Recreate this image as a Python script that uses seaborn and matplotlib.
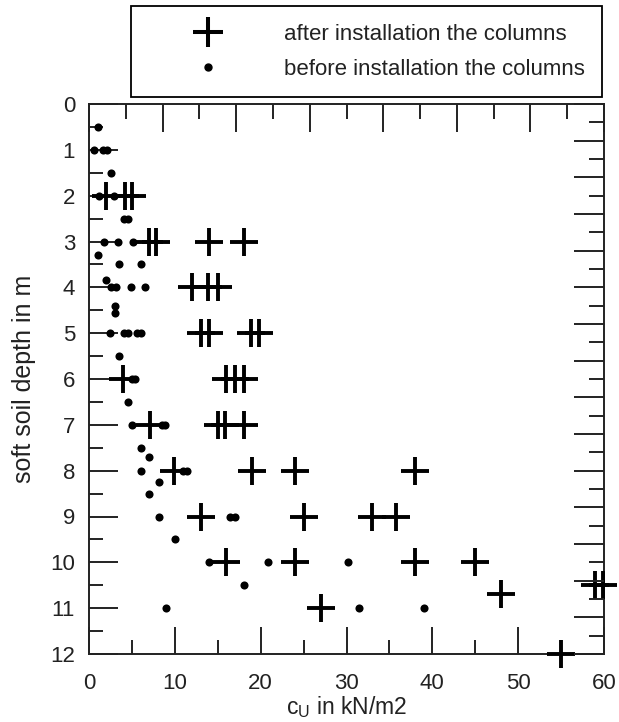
import matplotlib
matplotlib.use("Agg")
import matplotlib.pyplot as plt
import seaborn as sns
import numpy as np
import pandas as pd
from matplotlib.lines import Line2D
from matplotlib.ticker import MultipleLocator

# ---- data ----
after_cu = [2.0, 4.2, 5.0, 7.0, 7.8, 14.0, 18.0, 12.0, 13.9, 15.0,
            13.0, 14.0, 18.9, 19.8, 4.0, 16.0, 17.0, 18.0, 7.1, 15.0,
            15.8, 18.0, 9.9, 19.0, 24.0, 38.0, 13.0, 25.0, 33.0, 35.8,
            16.0, 24.0, 38.0, 45.0, 48.0, 59.0, 59.9, 27.0, 55.0]
after_depth = [2, 2, 2, 3, 3, 3, 3, 4, 4, 4,
               5, 5, 5, 5, 6, 6, 6, 6, 7, 7,
               7, 7, 8, 8, 8, 8, 9, 9, 9, 9,
               10, 10, 10, 10, 10.7, 10.5, 10.5, 11, 12]

before_cu = [1.0, 0.6, 1.6, 2.1, 2.6, 1.2, 2.9, 4.1, 4.6, 1.75,
             3.4, 5.1, 1.0, 3.5, 6.0, 2.0, 2.6, 3.2, 4.95, 6.5,
             3.0, 3.0, 2.4, 4.1, 4.5, 5.6, 6.0, 3.5, 5.0, 5.4,
             4.6, 5.05, 8.5, 8.9, 6.0, 7.0, 6.0, 11.0, 11.4, 8.1,
             7.0, 8.1, 16.4, 17.0, 10.0, 14.0, 20.9, 30.2, 18.1, 9.0,
             31.4, 39.0]
before_depth = [0.5, 1, 1, 1, 1.5, 2, 2, 2.5, 2.5, 3,
                3, 3, 3.3, 3.5, 3.5, 3.85, 4, 4, 4, 4,
                4.4, 4.55, 5, 5, 5, 5, 5, 5.5, 6, 6,
                6.5, 7, 7, 7, 7.5, 7.7, 8, 8, 8, 8.25,
                8.5, 9, 9, 9, 9.5, 10, 10, 10, 10.5, 11,
                11, 11]

legend_labels = ["after installation the columns", "before installation the columns"]
x_label = r"c$_\mathregular{U}$ in kN/m2"
y_label = "soft soil depth in m"

# ---- style ----
sns.set_style("ticks")
plt.rcParams["font.family"] = ["Liberation Sans", "DejaVu Sans"]
TXT = "#222222"
LC = "#222222"
LW = 1.4
RECT = [89 / 619, 1 - 654 / 722, 515 / 619, 550 / 722]

df_after = pd.DataFrame({"cu": after_cu, "depth": after_depth})
df_before = pd.DataFrame({"cu": before_cu, "depth": before_depth})


def build(legend_mode, overlay):
    fig = plt.figure(figsize=(6.19, 7.22), dpi=100)
    ax = fig.add_axes(RECT)

    sns.scatterplot(data=df_before, x="cu", y="depth", ax=ax, marker="o", s=34,
                    color="black", edgecolor="black", linewidth=0, clip_on=False, zorder=3)
    sns.scatterplot(data=df_after, x="cu", y="depth", ax=ax, marker="+", s=400,
                    color="black", linewidth=2.8, clip_on=False, zorder=4)

    ax.set_xlim(0, 60)
    ax.set_ylim(12, 0)
    ax.xaxis.set_major_locator(MultipleLocator(10))
    ax.xaxis.set_minor_locator(MultipleLocator(5))
    ax.yaxis.set_major_locator(MultipleLocator(1))
    ax.yaxis.set_minor_locator(MultipleLocator(0.5))

    ax.tick_params(axis="x", which="major", direction="in", length=19.5, width=LW,
                   colors=LC, labelsize=16, labelcolor=TXT, pad=14)
    ax.tick_params(axis="x", which="minor", direction="in", length=10, width=LW, colors=LC)
    ax.tick_params(axis="y", which="major", direction="in", length=21, width=LW,
                   colors=LC, labelsize=16, labelcolor=TXT, pad=10)
    ax.tick_params(axis="y", which="minor", direction="in", length=10, width=LW, colors=LC)
    for s in ax.spines.values():
        s.set_linewidth(LW)
        s.set_color(LC)

    ax.set_xlabel(x_label, fontsize=16.5, color=TXT, labelpad=0)
    ax.set_ylabel(y_label, fontsize=18, color=TXT, labelpad=10)

    if overlay:
        # extra tick scales on top (14 steps) and right (15 steps)
        axo = fig.add_axes(RECT)
        axo.patch.set_visible(False)
        axo.set_xlim(0, 14)
        axo.set_ylim(15, 0)
        axo.xaxis.set_major_locator(MultipleLocator(2))
        axo.xaxis.set_minor_locator(MultipleLocator(1))
        axo.yaxis.set_major_locator(MultipleLocator(1))
        axo.yaxis.set_minor_locator(MultipleLocator(0.5))
        axo.xaxis.tick_top()
        axo.yaxis.tick_right()
        axo.tick_params(axis="both", which="both", labeltop=False, labelright=False,
                        labelbottom=False, labelleft=False, direction="in",
                        width=LW, colors=LC)
        axo.tick_params(axis="x", which="major", length=20)
        axo.tick_params(axis="x", which="minor", length=10.5)
        axo.tick_params(axis="y", which="major", length=21.5)
        axo.tick_params(axis="y", which="minor", length=10.5)
        for s in axo.spines.values():
            s.set_visible(False)

    if legend_mode != "none":
        handles = [
            Line2D([], [], linestyle="none", marker="+", markersize=21,
                   markeredgewidth=2.9, color="black"),
            Line2D([], [], linestyle="none", marker="o", markersize=5, color="black"),
        ]
        common = dict(fontsize=16, frameon=True, fancybox=False, edgecolor="black",
                      framealpha=1, borderpad=0.8, handlelength=5.3,
                      handletextpad=0.78, labelspacing=0.62, borderaxespad=0)
        if legend_mode == "expand":
            leg = fig.legend(handles, legend_labels, loc="upper left",
                             bbox_to_anchor=(131 / 619, 1 - 95 / 722, 471 / 619, 89 / 722),
                             mode="expand", **common)
        else:
            leg = fig.legend(handles, legend_labels, loc="upper left",
                             bbox_to_anchor=(131 / 619, 1 - 6 / 722), **common)
        leg.get_frame().set_linewidth(1.3)
        for t in leg.get_texts():
            t.set_color(TXT)
    return fig, ax


def bottom_ticks_visible(fig, ax):
    fig.canvas.draw()
    img = np.asarray(fig.canvas.buffer_rgba())[:, :, :3].astype(int)
    h = img.shape[0]
    hits = 0
    for xv in (10, 20, 30, 40):
        px, py = ax.transData.transform((xv, 12))
        col = int(round(px))
        row_bottom = int(round(h - py))
        seg = img[row_bottom - 22:row_bottom - 5, col - 1:col + 2]
        if (seg.sum(axis=2) < 330).sum() >= 8:
            hits += 1
    return hits >= 3


variants = [("expand", True), ("plain", True), ("expand", False),
            ("plain", False), ("none", True), ("none", False)]

chosen = None
for legend_mode, overlay in variants:
    fig, ax = build(legend_mode, overlay)
    if bottom_ticks_visible(fig, ax):
        chosen = fig
        break
    plt.close(fig)

if chosen is None:
    chosen, _ = build("expand", True)

chosen.savefig("out.png", dpi=100)
